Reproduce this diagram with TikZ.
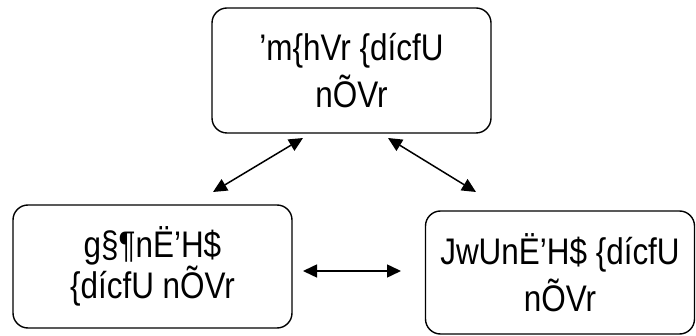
\documentclass[tikz,border=0pt]{standalone}
\usepackage{fontspec}
\setmainfont[FakeStretch=0.85]{Liberation Sans}
\usetikzlibrary{arrows.meta}

\begin{document}
\begin{tikzpicture}[x=1pt, y=-1pt,
    box/.style={draw, line width=1.4pt, rounded corners=15pt,
        align=center, inner sep=0pt,
        font=\fontsize{37}{47}\selectfont},
    link/.style={line width=1.5pt,
        {Triangle[length=14pt,width=13pt]}-{Triangle[length=14pt,width=13pt]}}]
    \useasboundingbox (0,0) rectangle (696,336);
    \node[box, minimum width=279pt, minimum height=125pt]
        (info) at (351.5,70.5) {’m\{hVr \{dícfU\\nÕVr};
    \node[box, minimum width=279pt, minimum height=123pt,
        font=\fontsize{37}{38}\selectfont]
        (quant) at (152.5,266.5) {g§¶nË’H\$\\\{dícfU nÕVr};
    \node[box, minimum width=269pt, minimum height=123pt]
        (qual) at (560,272.5) {JwUnË’H\$ \{dícfU\\nÕVr};
    \coordinate (a1) at (213,192);
    \coordinate (a2) at (303,138);
    \coordinate (b1) at (388,138);
    \coordinate (b2) at (476,192);
    \coordinate (c1) at (303,271);
    \coordinate (c2) at (401,271);
    \draw[link] (a1) -- (a2);
    \draw[link] (b1) -- (b2);
    \draw[link] (c1) -- (c2);
\end{tikzpicture}
\end{document}
